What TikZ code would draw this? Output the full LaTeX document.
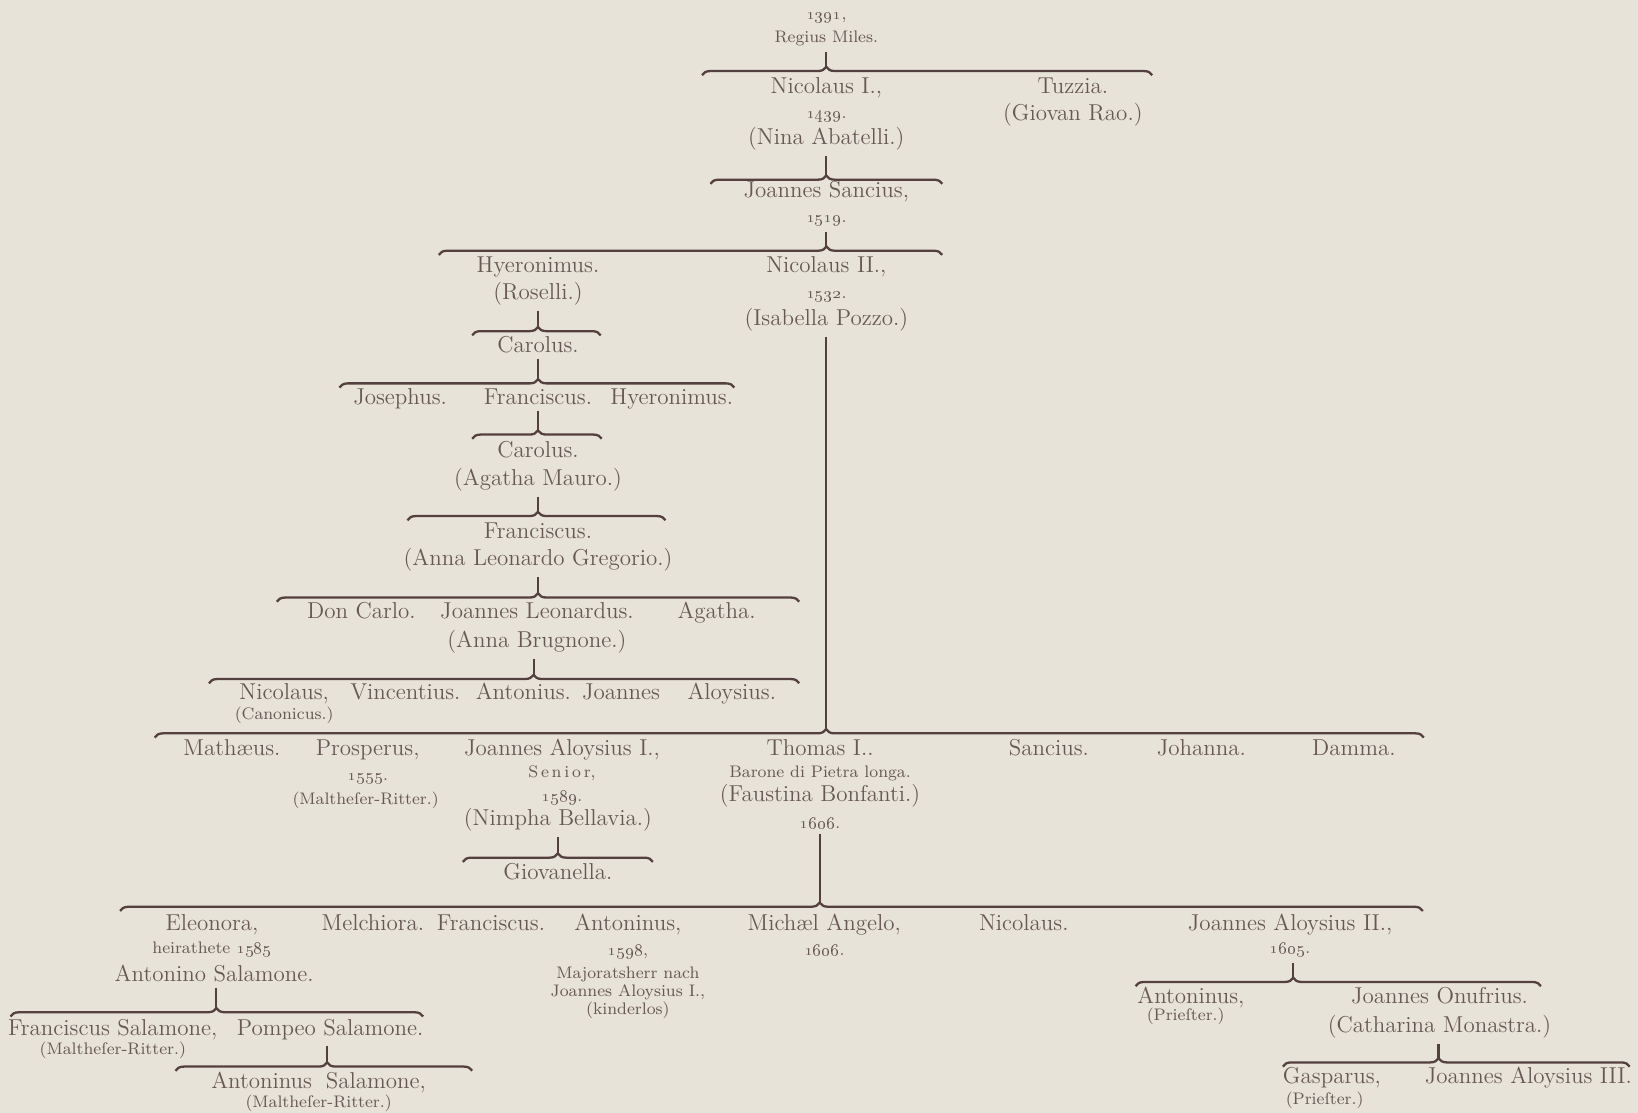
\documentclass[tikz,border=0pt]{standalone}
\usetikzlibrary{decorations.pathreplacing}
\definecolor{paper}{RGB}{231,227,216}
\definecolor{ink}{RGB}{104,88,84}
\definecolor{rule}{RGB}{84,64,62}
\tikzset{
 person/.style={inner sep=0pt, anchor=mid, yshift=-0.6pt, text=ink, font=\fontsize{11}{13}\selectfont},
 note/.style={inner sep=0pt, anchor=mid, yshift=-0.4pt, text=ink, font=\fontsize{8}{9}\selectfont},
 stem/.style={draw=rule, line width=1pt, shorten <=2.5pt},
 kin/.style={draw=rule, line width=1.1pt, decorate, decoration={brace, amplitude=4pt, aspect=#1}},
}
\begin{document}
\begin{tikzpicture}[x=0.5pt,y=-0.5pt]
\fill[paper] (0,0) rectangle (1568,1065);
\useasboundingbox (0,0) rectangle (1568,1065);

\node[note] (y1391) at (791,14) {\oldstylenums{1391},};
\node[note] (regius) at (791,36) {Regius Miles.};
\coordinate (b1l) at (672,72);
\coordinate (b1r) at (1103,72);
\coordinate (t1) at (791,64);
\draw[kin=0.276] (b1l) -- (b1r);
\draw[stem] (regius.south -| t1) -- (t1);
\node[person] (nicI) at (791,84) {Nicolaus I.,};
\node[note] (y1439) at (791,108) {\oldstylenums{1439}.};
\node[person] (nina) at (791,133) {(Nina Abatelli.)};
\node[person] (tuzzia) at (1027,84) {Tuzzia.};
\node[person] (giovan) at (1027,110) {(Giovan Rao.)};

\coordinate (b2l) at (680,176);
\coordinate (b2r) at (902,176);
\coordinate (t2) at (791,168);
\draw[kin=0.5] (b2l) -- (b2r);
\draw[stem] (nina.south -| t2) -- (t2);
\node[person] (joSan) at (791,184) {Joannes Sancius,};
\node[note] (y1519) at (791,208) {\oldstylenums{1519}.};

\coordinate (b3l) at (420,244);
\coordinate (b3r) at (902,244);
\coordinate (t3) at (791,236);
\draw[kin=0.77] (b3l) -- (b3r);
\draw[stem] (y1519.south -| t3) -- (t3);
\node[person] (hyer) at (515,255) {Hyeronimus.};
\node[person] (roselli) at (515,281) {(Roselli.)};
\node[person] (nicII) at (791,255) {Nicolaus II.,};
\node[note] (y1532) at (791,281) {\oldstylenums{1532}.};
\node[person] (isabella) at (791,306) {(Isabella Pozzo.)};

\coordinate (b4l) at (452,321);
\coordinate (b4r) at (575,321);
\coordinate (t4) at (515,313);
\draw[kin=0.512] (b4l) -- (b4r);
\draw[stem] (roselli.south -| t4) -- (t4);
\node[person] (carolA) at (515,332) {Carolus.};

\coordinate (b5l) at (325,371);
\coordinate (b5r) at (703,371);
\coordinate (t5) at (515,363);
\draw[kin=0.503] (b5l) -- (b5r);
\draw[stem] (carolA.south -| t5) -- (t5);
\node[person] (joseph) at (383,382) {Josephus.};
\node[person] (francA) at (515,382) {Franciscus.};
\node[person] (hyerB) at (643,382) {Hyeronimus.};

\coordinate (b6l) at (452,420);
\coordinate (b6r) at (576,420);
\coordinate (t6) at (515,412);
\draw[kin=0.508] (b6l) -- (b6r);
\draw[stem] (francA.south -| t6) -- (t6);
\node[person] (carolB) at (515,432) {Carolus.};
\node[person] (agathaM) at (515,459) {(Agatha Mauro.)};

\coordinate (b7l) at (390,498);
\coordinate (b7r) at (637,498);
\coordinate (t7) at (515,490);
\draw[kin=0.506] (b7l) -- (b7r);
\draw[stem] (agathaM.south -| t7) -- (t7);
\node[person] (francB) at (515,510) {Franciscus.};
\node[person] (annaLG) at (515,536) {(Anna Leonardo Gregorio.)};

\coordinate (b8l) at (265,576);
\coordinate (b8r) at (765,576);
\coordinate (t8) at (515,568);
\draw[kin=0.5] (b8l) -- (b8r);
\draw[stem] (annaLG.south -| t8) -- (t8);
\node[person] (donCarlo) at (346,587) {Don Carlo.};
\node[person] (joLeo) at (514,587) {Joannes Leonardus.};
\node[person] (agatha) at (686,587) {Agatha.};
\node[person] (annaB) at (514,614) {(Anna Brugnone.)};

\coordinate (b9l) at (200,654);
\coordinate (b9r) at (765,654);
\coordinate (t9) at (511,646);
\draw[kin=0.55] (b9l) -- (b9r);
\draw[stem] (annaB.south -| t9) -- (t9);
\node[person] (nicC) at (272,664) {Nicolaus,};
\node[note] (canon) at (272,684) {(Canonicus.)};
\node[person] (vinc) at (388,664) {Vincentius.};
\node[person] (anton) at (501,664) {Antonius.};
\node[person] (joAlo) at (650,664) {Joannes\hspace{1.2em}Aloysius.};

\coordinate (b10l) at (148,706);
\coordinate (b10r) at (1363,706);
\coordinate (t10) at (791,698);
\draw[kin=0.529] (b10l) -- (b10r);
\draw[stem] (isabella.south -| t10) -- (t10);
\node[person] (math) at (222,718) {Mathæus.};
\node[person] (prosp) at (352,718) {Prosperus,};
\node[note] (y1555) at (352,742) {\oldstylenums{1555}.};
\node[note] (maltA) at (350,765) {(Maltheſer-Ritter.)};
\node[person] (jaI) at (538,718) {Joannes Aloysius I.,};
\node[note] (senior) at (538,739) {S\,e\,n\,i\,o\,r,};
\node[note] (y1589) at (538,762) {\oldstylenums{1589}.};
\node[person] (nimpha) at (534,785) {(Nimpha Bellavia.)};
\node[person] (thomas) at (785,718) {Thomas I..};
\node[note] (barone) at (785,739) {Barone di Pietra longa.};
\node[person] (faustina) at (785,762) {(Faustina Bonfanti.)};
\node[note] (y1606) at (785,788) {\oldstylenums{1606}.};
\node[person] (sancius) at (1004,718) {Sancius.};
\node[person] (johanna) at (1150,718) {Johanna.};
\node[person] (damma) at (1296,718) {Damma.};

\coordinate (b11l) at (443,825);
\coordinate (b11r) at (625,825);
\coordinate (t11) at (534,817);
\draw[kin=0.5] (b11l) -- (b11r);
\draw[stem] (nimpha.south -| t11) -- (t11);
\node[person] (giov) at (534,836) {Giovanella.};

\coordinate (b12l) at (115,872);
\coordinate (b12r) at (1362,872);
\coordinate (t12) at (785,864);
\draw[kin=0.537] (b12l) -- (b12r);
\draw[stem] (y1606.south -| t12) -- (t12);
\node[person] (eleo) at (203,885) {Eleonora,};
\node[note] (heir) at (203,908) {heirathete \oldstylenums{1585}};
\node[person] (antSal) at (205,934) {Antonino Salamone.};
\node[person] (melch) at (357,885) {Melchiora.};
\node[person] (francC) at (470,885) {Franciscus.};
\node[person] (antoA) at (601,885) {Antoninus,};
\node[note] (y1598) at (601,910) {\oldstylenums{1598},};
\node[note] (major) at (601,932) {Majoratsherr nach};
\node[note] (majorB) at (601,949) {Joannes Aloysius I.,};
\node[note] (kinder) at (601,966) {(kinderlos)};
\node[person] (michael) at (789,885) {Michæl Angelo,};
\node[note] (y1606b) at (789,910) {\oldstylenums{1606}.};
\node[person] (nicD) at (980,885) {Nicolaus.};
\node[person] (jaII) at (1235,885) {Joannes Aloysius II.,};
\node[note] (y1605) at (1235,908) {\oldstylenums{1605}.};

\coordinate (b13l) at (1087,944);
\coordinate (b13r) at (1475,944);
\coordinate (t13) at (1238,936);
\draw[kin=0.389] (b13l) -- (b13r);
\draw[stem] (y1605.south -| t13) -- (t13);
\node[person] (antoB) at (1140,955) {Antoninus,};
\node[note] (priestA) at (1135,972) {(Prieſter.)};
\node[person] (joOnu) at (1378,955) {Joannes Onufrius.};
\node[person] (cath) at (1378,983) {(Catharina Monastra.)};

\coordinate (b14l) at (1228,1021);
\coordinate (b14r) at (1560,1021);
\coordinate (t14) at (1377,1013);
\draw[kin=0.449] (b14l) -- (b14r);
\draw[stem] (cath.south -| t14) -- (t14);
\node[person] (gasp) at (1275,1032) {Gasparus,};
\node[note] (priestB) at (1268,1052) {(Prieſter.)};
\node[person] (jaIII) at (1463,1032) {Joannes Aloysius III.};

\coordinate (b15l) at (10,973);
\coordinate (b15r) at (405,973);
\coordinate (t15) at (207,965);
\draw[kin=0.499] (b15l) -- (b15r);
\draw[stem] (antSal.south -| t15) -- (t15);
\node[person] (franSal) at (108,986) {Franciscus Salamone,};
\node[note] (maltB) at (108,1004) {(Maltheſer-Ritter.)};
\node[person] (pompeo) at (316,986) {Pompeo Salamone.};

\coordinate (b16l) at (168,1025);
\coordinate (b16r) at (452,1025);
\coordinate (t16) at (313,1017);
\draw[kin=0.511] (b16l) -- (b16r);
\draw[stem] (pompeo.south -| t16) -- (t16);
\node[person] (antoSal) at (305,1036) {Antoninus\hspace{0.6em}Salamone,};
\node[note] (maltC) at (305,1055) {(Maltheſer-Ritter.)};
\end{tikzpicture}
\end{document}
